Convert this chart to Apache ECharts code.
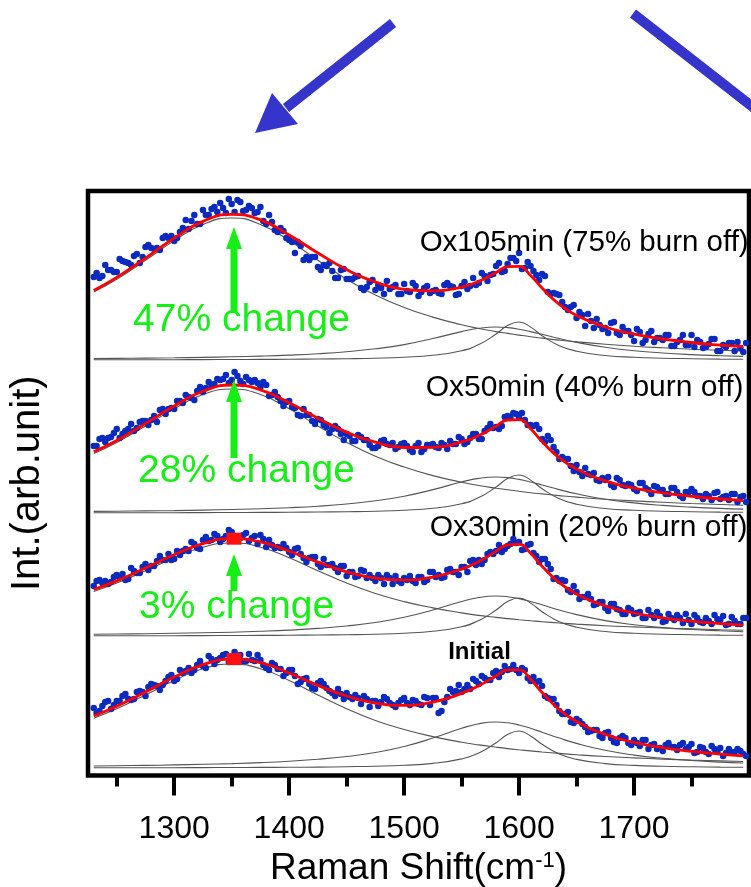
<!DOCTYPE html>
<html lang="en">
<head>
<meta charset="UTF-8">
<title>Raman spectra</title>
<script src="https://cdn.jsdelivr.net/npm/echarts@6/dist/echarts.min.js"></script>
<style>
    html, body { margin: 0; padding: 0; background: #fff; }
    #main { width: 751px; height: 887px; }
</style>
</head>
<body>
<div id="main"></div>
<script>
    // Raman shift (cm-1) where the fitted curves were read
    var fitShift = [1230, 1250, 1275, 1300, 1325, 1350, 1375, 1400, 1425, 1450, 1475, 1500, 1525, 1550,
        1565, 1580, 1590, 1600, 1610, 1620, 1635, 1650, 1675, 1700, 1725, 1750, 1775, 1795];

    // spectra from bottom to top: Initial, Ox30min, Ox50min, Ox105min
    var stackOffset = [7.5, 139.5, 262.5, 415.5];

    // D band (~1350)
    var bandD = [
        [49.8, 59.2, 73.0, 87.5, 99.3, 104, 99.3, 87.5, 73.0, 59.2, 47.6, 38.5, 31.4, 25.8, 23.1, 20.8, 19.4, 18.2, 17.1, 16.0, 14.6, 13.3, 11.5, 10.1, 8.9, 7.9, 7.1, 6.5],
        [44.5, 52.9, 65.3, 78.2, 88.8, 93, 88.8, 78.2, 65.3, 52.9, 42.6, 34.4, 28.1, 23.1, 20.6, 18.6, 17.4, 16.3, 15.3, 14.3, 13.0, 11.9, 10.3, 9.1, 8.0, 7.1, 6.3, 5.8],
        [59.4, 70.6, 87.0, 104.3, 118.4, 124, 118.4, 104.3, 87.0, 70.6, 56.8, 45.9, 37.4, 30.8, 27.5, 24.8, 23.2, 21.7, 20.3, 19.1, 17.4, 15.9, 13.8, 12.1, 10.7, 9.5, 8.5, 7.8],
        [68.0, 80.8, 99.7, 119.4, 135.6, 142, 135.6, 119.4, 99.7, 80.8, 65.0, 52.5, 42.9, 35.2, 31.5, 28.4, 26.6, 24.9, 23.3, 21.9, 19.9, 18.2, 15.8, 13.8, 12.2, 10.8, 9.7, 8.9]
    ];
    // broad band (~1580)
    var bandBroad = [
        [2.0, 2.3, 2.6, 3.1, 3.7, 4.4, 5.4, 6.8, 8.7, 11.5, 15.5, 21.5, 29.9, 39.7, 44.3, 46, 45.2, 43.0, 39.7, 35.8, 29.9, 24.6, 17.7, 12.9, 9.7, 7.5, 5.9, 5.0],
        [1.8, 2.0, 2.3, 2.7, 3.2, 3.8, 4.7, 5.9, 7.6, 10.0, 13.5, 18.7, 26.0, 34.5, 38.5, 40, 39.3, 37.4, 34.5, 31.2, 26.0, 21.4, 15.4, 11.2, 8.4, 6.5, 5.2, 4.3],
        [1.6, 1.8, 2.1, 2.4, 2.9, 3.5, 4.2, 5.3, 6.8, 9.0, 12.2, 16.8, 23.4, 31.0, 34.6, 36, 35.4, 33.6, 31.0, 28.0, 23.4, 19.2, 13.8, 10.1, 7.6, 5.9, 4.6, 3.9],
        [1.4, 1.6, 1.9, 2.2, 2.6, 3.2, 3.9, 4.9, 6.3, 8.3, 11.2, 15.4, 21.5, 28.4, 31.7, 33, 32.4, 30.8, 28.4, 25.7, 21.5, 17.6, 12.7, 9.3, 7.0, 5.4, 4.3, 3.6]
    ];
    // G band (~1600)
    var bandG = [
        [0.2, 0.2, 0.3, 0.3, 0.4, 0.5, 0.6, 0.7, 0.9, 1.3, 1.8, 2.7, 4.6, 9.1, 14.9, 25.3, 33.5, 37, 32.0, 23.7, 13.9, 8.6, 4.4, 2.6, 1.7, 1.2, 0.9, 0.7],
        [0.2, 0.2, 0.3, 0.3, 0.4, 0.5, 0.6, 0.7, 1.0, 1.3, 1.8, 2.8, 4.8, 9.3, 15.4, 26.0, 34.4, 38, 32.9, 24.3, 14.3, 8.8, 4.5, 2.7, 1.8, 1.3, 0.9, 0.8],
        [0.2, 0.2, 0.3, 0.3, 0.4, 0.5, 0.6, 0.7, 1.0, 1.3, 1.8, 2.8, 4.8, 9.3, 15.4, 26.0, 34.4, 38, 32.9, 24.3, 14.3, 8.8, 4.5, 2.7, 1.8, 1.3, 0.9, 0.8],
        [0.2, 0.2, 0.3, 0.3, 0.4, 0.5, 0.6, 0.7, 1.0, 1.3, 1.8, 2.8, 4.8, 9.3, 15.4, 26.0, 34.4, 38, 32.9, 24.3, 14.3, 8.8, 4.5, 2.7, 1.8, 1.3, 0.9, 0.8]
    ];
    // total fit
    var fitLine = [
        [52.0, 61.7, 75.9, 90.9, 103.4, 108.9, 105.3, 95.0, 82.6, 72.0, 64.9, 62.7, 65.9, 74.6, 82.3, 92.1, 98.1, 98.2, 88.8, 75.5, 58.4, 46.5, 33.6, 25.6, 20.3, 16.6, 13.9, 12.2],
        [46.5, 55.1, 67.9, 81.2, 92.4, 97.3, 94.1, 84.8, 73.9, 64.2, 57.9, 55.9, 58.9, 66.9, 74.5, 84.6, 91.1, 91.7, 82.7, 69.8, 53.3, 42.1, 30.2, 23.0, 18.2, 14.9, 12.4, 10.9],
        [61.2, 72.6, 89.4, 107.0, 121.7, 128.0, 123.2, 110.3, 94.8, 80.9, 70.8, 65.5, 65.6, 71.1, 77.5, 86.8, 93.0, 93.3, 84.2, 71.4, 55.1, 43.9, 32.1, 24.9, 20.1, 16.7, 14.0, 12.5],
        [69.6, 82.6, 101.9, 121.9, 138.6, 145.7, 140.1, 125.0, 107.0, 90.4, 78.0, 70.7, 69.2, 72.9, 78.6, 87.4, 93.4, 93.7, 84.6, 71.9, 55.7, 44.6, 33.0, 25.8, 21.0, 17.5, 14.9, 13.3]
    ];

    // measured points: two interleaved runs, every 5 cm-1 from 1230 and from 1232.5
    var dotStep = 5;
    var dotStartA = 1230, dotStartB = 1232.5;
    var measuredA = [
        [60, 57, 66, 59, 67, 72, 69, 69, 77, 72, 84, 82, 83, 91, 87, 98, 97, 95, 103, 102,
         112, 104, 110, 114, 110, 112, 107, 114, 107, 108, 100, 105, 99, 92, 98, 92, 86, 90, 80, 85,
         84, 77, 72, 74, 75, 69, 70, 72, 61, 67, 66, 69, 63, 65, 70, 63, 67, 63, 70, 70,
         55, 66, 79, 77, 76, 83, 89, 84, 90, 88, 97, 96, 98, 103, 95, 98, 87, 86, 82, 70,
         69, 57, 54, 46, 49, 44, 36, 38, 32, 35, 30, 25, 32, 25, 28, 22, 28, 23, 19, 17,
         25, 21, 23, 19, 24, 16, 20, 14, 19, 20, 15, 16, 19, 14],
        [50, 56, 55, 54, 61, 62, 57, 65, 63, 72, 70, 75, 76, 82, 77, 81, 87, 94, 88, 96,
         95, 102, 94, 100, 104, 99, 101, 95, 100, 101, 89, 91, 89, 92, 84, 87, 82, 74, 79, 72,
         77, 71, 68, 70, 60, 64, 60, 65, 61, 55, 58, 61, 52, 55, 58, 60, 53, 59, 56, 64,
         61, 59, 67, 64, 69, 64, 76, 76, 76, 84, 85, 84, 90, 97, 94, 87, 92, 80, 77, 72,
         57, 55, 55, 44, 44, 39, 42, 31, 34, 28, 32, 27, 22, 28, 22, 24, 18, 21, 24, 14,
         22, 16, 18, 22, 12, 18, 13, 15, 21, 16, 11, 19, 12, 18],
        [67, 74, 71, 76, 84, 79, 84, 82, 91, 92, 93, 91, 104, 104, 104, 112, 118, 115, 122, 121,
         131, 129, 133, 138, 133, 137, 129, 133, 133, 126, 128, 118, 116, 107, 112, 105, 97, 98, 92, 94,
         88, 80, 87, 79, 79, 72, 78, 73, 68, 65, 72, 69, 70, 66, 70, 63, 67, 61, 68, 69,
         65, 68, 72, 69, 74, 71, 79, 74, 82, 89, 86, 87, 97, 100, 95, 93, 88, 88, 74, 77,
         66, 54, 54, 47, 48, 37, 39, 40, 32, 33, 28, 35, 28, 29, 24, 30, 25, 19, 26, 23,
         19, 25, 17, 21, 24, 17, 14, 17, 20, 14, 17, 19, 11, 17],
        [83, 82, 95, 90, 88, 99, 97, 104, 97, 113, 112, 112, 122, 122, 119, 128, 140, 139, 136, 150,
         145, 153, 157, 147, 156, 160, 149, 154, 147, 153, 136, 138, 128, 129, 120, 107, 114, 103, 103, 93,
         95, 97, 82, 90, 81, 81, 84, 70, 78, 70, 72, 79, 73, 66, 76, 68, 74, 68, 74, 69,
         67, 75, 74, 65, 74, 71, 82, 77, 84, 85, 94, 88, 96, 102, 107, 92, 94, 85, 86, 68,
         67, 65, 53, 53, 42, 45, 46, 32, 35, 32, 37, 27, 33, 29, 19, 28, 20, 29, 22, 20,
         25, 14, 20, 15, 25, 20, 12, 16, 21, 9, 13, 17, 18, 8]
    ];
    var measuredB = [
        [55, 62, 67, 63, 67, 74, 68, 76, 76, 81, 83, 78, 87, 93, 89, 95, 100, 98, 107, 100,
         109, 108, 113, 106, 116, 113, 107, 108, 113, 103, 98, 103, 99, 95, 98, 84, 89, 84, 79, 87,
         80, 75, 79, 69, 71, 73, 64, 69, 67, 62, 71, 65, 61, 68, 65, 68, 64, 71, 63, 70,
         57, 71, 76, 83, 79, 79, 87, 92, 88, 95, 91, 102, 99, 98, 100, 90, 91, 87, 72, 69,
         63, 54, 56, 45, 47, 41, 37, 38, 30, 36, 26, 30, 30, 23, 25, 28, 19, 24, 20, 23,
         21, 18, 25, 21, 15, 21, 16, 22, 16, 12, 19, 16, 17, 12],
        [55, 53, 52, 59, 59, 56, 68, 63, 69, 66, 70, 80, 76, 76, 85, 85, 85, 92, 87, 99,
         96, 100, 97, 106, 97, 98, 103, 98, 92, 97, 96, 88, 88, 88, 81, 88, 78, 78, 79, 69,
         71, 72, 64, 70, 64, 59, 66, 58, 58, 61, 52, 58, 60, 53, 56, 55, 59, 54, 64, 59,
         58, 66, 64, 61, 69, 75, 71, 72, 82, 82, 91, 87, 92, 93, 86, 91, 83, 74, 77, 67,
         58, 56, 46, 50, 37, 39, 37, 32, 34, 25, 32, 26, 22, 26, 23, 18, 26, 18, 20, 15,
         18, 21, 13, 16, 21, 14, 18, 12, 17, 20, 12, 15, 12, 18],
        [67, 75, 75, 80, 75, 82, 89, 85, 92, 88, 97, 103, 99, 105, 112, 110, 116, 113, 126, 125,
         127, 134, 134, 130, 141, 132, 136, 131, 130, 131, 117, 121, 112, 111, 106, 98, 104, 98, 89, 93,
         86, 84, 84, 73, 77, 72, 76, 73, 65, 67, 73, 68, 64, 69, 67, 61, 70, 64, 68, 66,
         70, 64, 69, 76, 69, 75, 79, 74, 85, 85, 84, 96, 96, 99, 100, 88, 87, 84, 71, 73,
         61, 56, 54, 42, 41, 45, 38, 33, 35, 36, 26, 33, 27, 28, 22, 30, 23, 27, 23, 19,
         25, 21, 15, 21, 21, 17, 19, 13, 21, 16, 13, 19, 16, 11],
        [87, 84, 90, 88, 101, 98, 95, 106, 103, 115, 111, 110, 124, 124, 122, 132, 131, 145, 136, 145,
         151, 148, 152, 161, 148, 158, 150, 152, 148, 139, 145, 130, 132, 122, 118, 118, 100, 100, 103, 90,
         94, 89, 82, 91, 81, 83, 72, 73, 80, 75, 66, 71, 75, 66, 69, 77, 64, 72, 67, 70,
         66, 77, 73, 66, 78, 74, 75, 87, 79, 86, 97, 89, 102, 99, 91, 98, 89, 80, 84, 66,
         66, 58, 50, 55, 48, 34, 39, 41, 31, 27, 38, 25, 29, 25, 31, 17, 26, 18, 22, 25,
         14, 18, 25, 15, 13, 18, 13, 21, 9, 15, 17, 9, 12, 17]
    ];

    // D peak position marks (Initial, Ox30min)
    var peakShift = 1352;
    var peakSpectrum = [0, 1];
    var peakValue = [108.9, 97.3];

    // green "change" arrows on Ox30min, Ox50min, Ox105min
    var arrowSpectrum = [1, 2, 3];
    var arrowFrom = [45, 55, 47];
    var arrowTo = [82, 133, 133];

    var majorTicks = [1300, 1400, 1500, 1600, 1700];
    var minorTicks = [1250, 1350, 1450, 1550, 1650, 1750];

    var labelFont = 'Liberation Sans, Arial, sans-serif';
    var green = '#16ef16';

    var series = [];
    for (var s = 0; s < 4; s++) {
        var off = stackOffset[s];
        [bandD[s], bandBroad[s], bandG[s]].forEach(function (band) {
            series.push({
                type: 'line',
                data: fitShift.map(function (x, i) { return [x, band[i] + off]; }),
                smooth: 0.5,
                symbol: 'none',
                lineStyle: {color: '#555555', width: 1.1},
                z: 2
            });
        });
        [[measuredA[s], dotStartA], [measuredB[s], dotStartB]].forEach(function (run) {
            series.push({
                type: 'scatter',
                data: run[0].map(function (v, i) { return [run[1] + i * dotStep, v + off]; }),
                symbolSize: 6.5,
                itemStyle: {color: '#0a2ac0', opacity: 1},
                z: 3
            });
        });
        series.push({
            type: 'line',
            data: fitShift.map(function (x, i) { return [x, fitLine[s][i] + off]; }),
            smooth: 0.5,
            symbol: 'none',
            lineStyle: {color: '#ff0000', width: 2.8},
            z: 4
        });
    }

    series.push({
        type: 'scatter',
        data: peakSpectrum.map(function (k, i) { return [peakShift, peakValue[i] + stackOffset[k]]; }),
        symbol: 'rect',
        symbolSize: [15, 12],
        itemStyle: {color: '#ff1010', opacity: 1},
        z: 5
    });

    series.push({
        type: 'custom',
        data: arrowSpectrum.map(function (k, i) {
            return [peakShift, arrowFrom[i] + stackOffset[k], arrowTo[i] + stackOffset[k]];
        }),
        encode: {x: 0, y: [1, 2]},
        renderItem: function (params, api) {
            var base = api.coord([api.value(0), api.value(1)]);
            var tip = api.coord([api.value(0), api.value(2)]);
            var headH = 22, headW = 8, shaftW = 3.5;
            return {
                type: 'group',
                children: [
                    {type: 'rect', shape: {x: base[0] - shaftW, y: tip[1] + headH - 2, width: shaftW * 2, height: base[1] - tip[1] - headH + 2}, style: {fill: green}},
                    {type: 'polygon', shape: {points: [[tip[0], tip[1]], [tip[0] - headW, tip[1] + headH], [tip[0] + headW, tip[1] + headH]]}, style: {fill: green}}
                ]
            };
        },
        z: 6
    });

    // text notes, anchored in data space
    var notes = [
        {text: 'Ox105min (75% burn off)', at: [1513.5, 532.5], size: 29.5, color: '#000', align: 'left'},
        {text: 'Ox50min (40% burn off)', at: [1518.7, 387.5], size: 30, color: '#000', align: 'left'},
        {text: 'Ox30min (20% burn off)', at: [1522.2, 247.5], size: 30, color: '#000', align: 'left'},
        {text: 'Initial', at: [1565.6, 123.5], size: 24, color: '#000', align: 'center', weight: 'bold'},
        {text: '47% change', at: [1264.2, 455], size: 39, color: green, align: 'left'},
        {text: '28% change', at: [1268.6, 304.5], size: 39, color: green, align: 'left'},
        {text: '3% change', at: [1269.4, 168], size: 39, color: green, align: 'left'}
    ];
    series.push({
        type: 'custom',
        data: notes.map(function (n) { return n.at; }),
        renderItem: function (params, api) {
            var n = notes[params.dataIndex];
            var p = api.coord([api.value(0), api.value(1)]);
            return {
                type: 'text',
                x: p[0],
                y: p[1],
                style: {
                    text: n.text,
                    fill: n.color,
                    fontSize: n.size,
                    fontFamily: labelFont,
                    fontWeight: n.weight || 'normal',
                    align: n.align,
                    verticalAlign: 'middle'
                }
            };
        },
        z: 7
    });

    var myChart = echarts.init(document.getElementById('main'));
    var option = {
        animation: false,
        grid: {
            left: 88, right: 2, top: 191, bottom: 111.5,
            outerBoundsMode: 'none',
            show: true, borderColor: '#000', borderWidth: 4.5
        },
        xAxis: [
            {
                type: 'value', min: 1225, max: 1800,
                axisLine: {show: false},
                splitLine: {show: false},
                axisTick: {show: true, customValues: majorTicks, length: 20, lineStyle: {color: '#000', width: 4}},
                axisLabel: {
                    customValues: majorTicks, margin: 38, fontSize: 32, color: '#000', fontFamily: labelFont,
                    formatter: function (v) { return String(v); }
                },
                name: '{n|Raman Shift(cm}{s|-1}{n|)}',
                nameLocation: 'middle',
                nameGap: 69,
                nameTextStyle: {
                    rich: {
                        n: {fontSize: 37, fontFamily: labelFont, color: '#000'},
                        s: {fontSize: 22, fontFamily: labelFont, color: '#000', verticalAlign: 'top'}
                    }
                }
            },
            {
                type: 'value', min: 1225, max: 1800, position: 'bottom',
                axisLine: {show: false},
                splitLine: {show: false},
                axisTick: {show: true, customValues: minorTicks, length: 11, lineStyle: {color: '#000', width: 4}},
                axisLabel: {show: false}
            }
        ],
        yAxis: {
            type: 'value', min: 0, max: 584.5,
            axisLine: {show: false},
            axisTick: {show: false},
            axisLabel: {show: false},
            splitLine: {show: false},
            name: 'Int.(arb.unit)',
            nameLocation: 'middle',
            nameGap: 40,
            nameTextStyle: {fontSize: 40, fontFamily: labelFont, color: '#000'}
        },
        graphic: [
            {type: 'line', shape: {x1: 393, y1: 23, x2: 286, y2: 108}, style: {stroke: '#3535cc', lineWidth: 10}},
            {type: 'polygon', shape: {points: [[255, 133], [272, 93], [298, 124]]}, style: {fill: '#3535cc'}},
            {type: 'line', shape: {x1: 633, y1: 13.5, x2: 790, y2: 136}, style: {stroke: '#3535cc', lineWidth: 10}}
        ],
        series: series
    };
    myChart.setOption(option);
</script>
</body>
</html>
